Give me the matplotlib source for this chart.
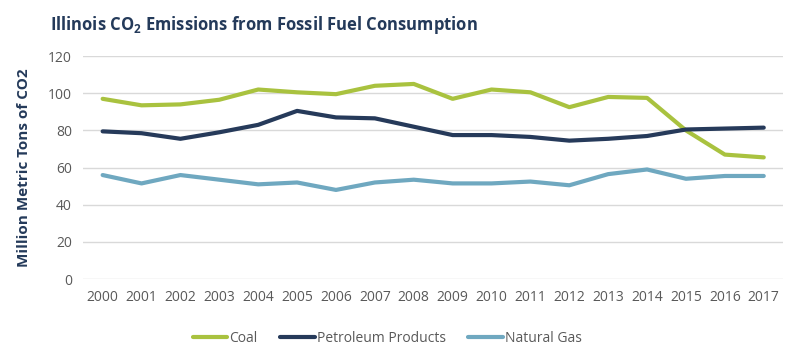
import matplotlib
matplotlib.use("Agg")
from matplotlib import pyplot as plt

years = [str(y) for y in range(2000, 2018)]
coal = [97, 93.5, 94, 96.5, 102, 100.5, 99.5, 104, 105, 97, 102, 100.5, 92.5, 98, 97.5, 80, 67, 65.5]
petroleum = [79.5, 78.5, 75.5, 79, 83, 90.5, 87, 86.5, 82, 77.5, 77.5, 76.5, 74.5, 75.5, 77, 80.5, 81, 81.5]
natural_gas = [56, 51.5, 56, 53.5, 51, 52, 48, 52, 53.5, 51.5, 51.5, 52.5, 50.5, 56.5, 59, 54, 55.5, 55.5]

plt.rcParams['font.family'] = ['Open Sans', 'DejaVu Sans']
plt.rcParams['mathtext.fontset'] = 'custom'
plt.rcParams['mathtext.bf'] = 'Open Sans:bold'
plt.rcParams['mathtext.rm'] = 'Open Sans'

navy = "#243a5a"
fig = plt.figure(figsize=(8, 3.57), dpi=100)
ax = fig.add_axes([0.104, 0.218, 0.875, 0.625])

x = range(len(years))
ax.plot(x, coal, color="#a9c23f", lw=3, label="Coal", solid_capstyle="round")
ax.plot(x, petroleum, color="#263a5a", lw=3, label="Petroleum Products", solid_capstyle="round")
ax.plot(x, natural_gas, color="#6fa8c0", lw=3, label="Natural Gas", solid_capstyle="round")

ax.set_xlim(-0.5, len(years) - 0.5)
ax.set_ylim(0, 120)
ax.set_yticks(range(0, 121, 20))
ax.set_xticks(list(x))
ax.set_xticklabels(years)
ax.grid(axis="y", color="#d9d9d9", lw=1)
ax.set_axisbelow(True)
for s in ax.spines.values():
    s.set_visible(False)
ax.tick_params(length=0, labelsize=10, colors="#595959", pad=8)

ax.set_ylabel("Million Metric Tons of CO2", fontsize=11, fontweight="bold", color=navy, labelpad=12)

fig.text(0.063, 0.93, r"Illinois CO$\mathbf{_2}$ Emissions from Fossil Fuel Consumption",
         fontsize=12, fontweight="bold", color=navy, va="center")

leg = ax.legend(loc="center", bbox_to_anchor=(0.434, -0.264), ncol=3, frameon=False,
                fontsize=10, handlelength=2.5, handletextpad=0.15, columnspacing=1.6)
for t in leg.get_texts():
    t.set_color("#595959")

fig.savefig("out.png", dpi=100)
